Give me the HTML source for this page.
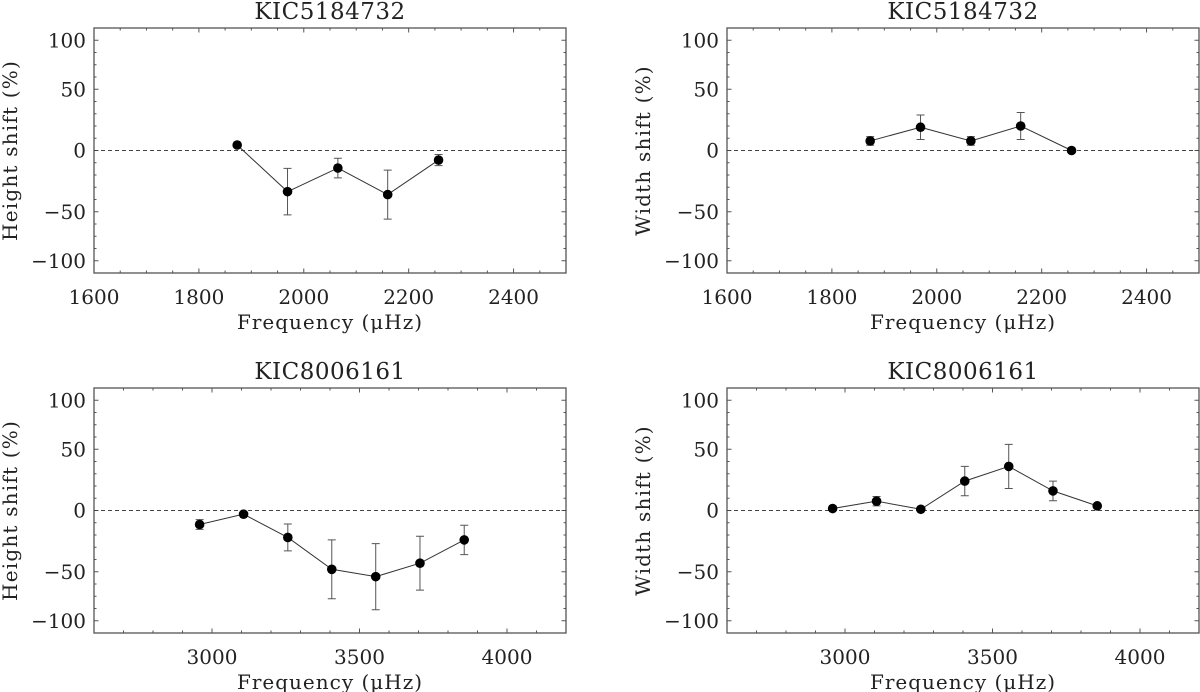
<!DOCTYPE html>
<html><head><meta charset="utf-8"><style>
html,body{margin:0;padding:0;background:#fff;}
svg{display:block;}
text{font-family:"DejaVu Serif","Liberation Serif",serif;fill:#222;}
</style></head><body>
<svg id="chart" width="1200" height="692" viewBox="0 0 1200 692" xmlns="http://www.w3.org/2000/svg"></svg>
<script>
// Panel data
const freqTop = [1873, 1969, 2065, 2160, 2257];
const heightTop = [4.5, -33.6, -14.3, -36, -7.8];
const heightTopErr = [1.5, 19, 8, 20, 4.5];
const widthTop = [7.8, 19, 7.8, 20, 0];
const widthTopErr = [3.5, 10, 3.5, 11, 1];
const freqBot = [2958, 3107, 3257, 3406, 3555, 3705, 3855];
const heightBot = [-11.4, -3, -22, -48, -54, -43, -24];
const heightBotErr = [4, 1, 11, 24, 27, 22, 12];
const widthBot = [1.6, 7.6, 1, 24, 36, 16, 3.8];
const widthBotErr = [1, 3.8, 1, 12, 18, 8, 1];
const yTickVals = [-90, -50, 0, 50, 90];
const yTickLabels = ["\u2212100", "\u221250", "0", "50", "100"];
const xTicksTop = [1600, 1800, 2000, 2200, 2400];
const xTicksBot = [3000, 3500, 4000];

const NS = "http://www.w3.org/2000/svg";
const svg = document.getElementById('chart');
function el(tag, attrs, parent, txt){
  const e = document.createElementNS(NS, tag);
  for (const k in attrs) e.setAttribute(k, attrs[k]);
  if (txt !== undefined) e.textContent = txt;
  (parent||svg).appendChild(e);
  return e;
}

const panels = [
  {name:'height-top', x0:94, x1:566, y0:28, y1:273, xmin:1600, xmax:2500, minor:50, xt:xTicksTop, title:'KIC5184732', ylab:'Height shift (%)', fx:freqTop, v:heightTop, e:heightTopErr},
  {name:'width-top', x0:727, x1:1199, y0:28, y1:273, xmin:1600, xmax:2500, minor:50, xt:xTicksTop, title:'KIC5184732', ylab:'Width shift (%)', fx:freqTop, v:widthTop, e:widthTopErr},
  {name:'height-bottom', x0:94, x1:566, y0:388, y1:633, xmin:2600, xmax:4200, minor:100, xt:xTicksBot, title:'KIC8006161', ylab:'Height shift (%)', fx:freqBot, v:heightBot, e:heightBotErr},
  {name:'width-bottom', x0:727, x1:1199, y0:388, y1:633, xmin:2600, xmax:4200, minor:100, xt:xTicksBot, title:'KIC8006161', ylab:'Width shift (%)', fx:freqBot, v:widthBot, e:widthBotErr}
];

panels.forEach(p => {
  const g = el('g', {});
  
  
  const X = f => p.x0 + (f - p.xmin) / (p.xmax - p.xmin) * (p.x1 - p.x0);
  const Y = v => p.y1 - (v + 100) / 200 * (p.y1 - p.y0);
  const axisCol = '#555';
  const fr = el('rect', {x:p.x0, y:p.y0, width:p.x1-p.x0, height:p.y1-p.y0, fill:'none', stroke:axisCol, 'stroke-width':1.3}, g);
  
  
  for (let f = p.xmin; f <= p.xmax; f += p.minor) {
    const isMaj = ((f - p.xt[0]) % (p.xt[1]-p.xt[0]) === 0);
    const len = isMaj ? 4.5 : 2.5;
    el('line', {x1:X(f), x2:X(f), y1:p.y1, y2:p.y1-len, stroke:axisCol}, g);
    el('line', {x1:X(f), x2:X(f), y1:p.y0, y2:p.y0+len, stroke:axisCol}, g);
  }
  p.xt.forEach(f => {
    const t = el('text', {x:X(f), y:p.y1 + 31, 'font-size':20, 'text-anchor':'middle'}, g, String(f));
    
    
  });
  for (let v = -90; v <= 90; v += 10) {
    const isMaj = yTickVals.includes(v);
    const len = isMaj ? 4.5 : 2.5;
    el('line', {x1:p.x0, x2:p.x0+len, y1:Y(v), y2:Y(v), stroke:axisCol}, g);
    el('line', {x1:p.x1, x2:p.x1-len, y1:Y(v), y2:Y(v), stroke:axisCol}, g);
  }
  yTickVals.forEach((v, i) => {
    const t = el('text', {x:p.x0-8, y:Y(v)+7, 'font-size':20, 'text-anchor':'end'}, g, yTickLabels[i]);
    
    
  });
  const tt = el('text', {x:(p.x0+p.x1)/2, y:p.y0-9, 'font-size':23, 'text-anchor':'middle', 'letter-spacing':0.5}, g, p.title);
  
  
  const xl = el('text', {x:(p.x0+p.x1)/2, y:p.y1+56, 'font-size':20, 'text-anchor':'middle', 'letter-spacing':1}, g, 'Frequency (\u03bcHz)');
  
  
  const yx = p.x0 - 77, yy = (p.y0+p.y1)/2;
  const yl = el('text', {x:yx, y:yy, 'font-size':20, 'text-anchor':'middle', 'letter-spacing':1.2, transform:`rotate(-90 ${yx} ${yy})`}, g, p.ylab);
  
  
  const z = el('line', {x1:p.x0, x2:p.x1, y1:Y(0), y2:Y(0), stroke:'#444', 'stroke-dasharray':'4,3', 'stroke-width':1}, g);
  
  
  const pts = p.fx.map((f, i) => X(f) + ',' + Y(p.v[i])).join(' ');
  const pl = el('polyline', {points:pts, fill:'none', stroke:'#333', 'stroke-width':1}, g);
  
  
  p.fx.forEach((f, i) => {
    const cx = X(f), ya = Y(p.v[i] + p.e[i]), yb = Y(p.v[i] - p.e[i]);
    const eb = el('path', {d:`M${cx},${ya}V${yb}M${cx-4},${ya}H${cx+4}M${cx-4},${yb}H${cx+4}`, stroke:'#555', fill:'none', 'stroke-width':1}, g);
    
    
    const c = el('circle', {cx:cx, cy:Y(p.v[i]), r:4.8, fill:'#000'}, g);
    
    
  });
});
</script>
</body></html>
